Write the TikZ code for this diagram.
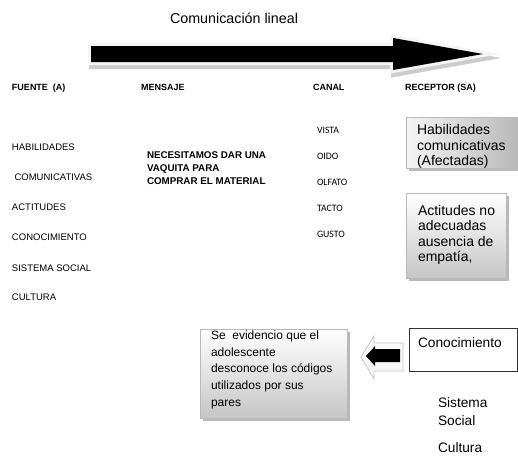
\documentclass[tikz,border=0pt]{standalone}
\usepackage{fontspec}
\setmainfont{Liberation Sans}
\newfontfamily\calibrifont{Carlito}
\begin{document}
\begin{tikzpicture}[x=1pt,y=-1pt,
  txt/.style={anchor=base west, inner sep=0pt, outer sep=0pt},
  title/.style={txt, font=\fontsize{14.3}{17}\selectfont},
  head/.style={txt, font=\fontsize{9}{11}\selectfont\bfseries},
  src/.style={txt, font=\fontsize{9.5}{11}\selectfont},
  msg/.style={txt, font=\fontsize{9.8}{12}\selectfont\bfseries},
  chan/.style={txt, font=\fontsize{9.8}{11}\selectfont\calibrifont},
  boxtxt/.style={txt, font=\fontsize{14}{16}\selectfont},
  smalltxt/.style={txt, font=\fontsize{12}{14}\selectfont},
  shadebox/.style={draw=gray!55, line width=0.6pt},
  shadowbox/.style={fill=gray!55, draw=none},
]
\useasboundingbox (0,0) rectangle (518,456);

% ---- title
\node[title] (ttl) at (170,23) {Comunicación lineal};

% ---- big arrow
\begin{scope}[shift={(1,4)}]
\path[draw=gray!40, fill=gray!40, line width=6pt, line join=miter, miter limit=30]
  (91,46) -- (393,46) -- (393,38) -- (483,54) -- (393,70) -- (393,62) -- (91,62) -- cycle;
\end{scope}
\path[draw=gray!8, line width=6pt, line join=miter, miter limit=30]
  (91,46) -- (393,46) -- (393,38) -- (483,54) -- (393,70) -- (393,62) -- (91,62) -- cycle;
\path[fill=black]
  (91,46) -- (393,46) -- (393,38) -- (483,54) -- (393,70) -- (393,62) -- (91,62) -- cycle;

% ---- headers
\node[head] (hfuente) at (12,90.2) {FUENTE \ (A)};
\node[head] (hmensaje) at (141,90.2) {MENSAJE};
\node[head] (hcanal) at (313,90.2) {CANAL};
\node[head] (hreceptor) at (405,90.2) {RECEPTOR (SA)};

% ---- source column
\node[src] (s1) at (12,150.4) {HABILIDADES};
\node[src] (s2) at (14.5,180.4) {COMUNICATIVAS};
\node[src] (s3) at (12,210.4) {ACTITUDES};
\node[src] (s4) at (12,240.4) {CONOCIMIENTO};
\node[src] (s5) at (12,271) {SISTEMA SOCIAL};
\node[src] (s6) at (12,300.4) {CULTURA};

% ---- message
\node[msg] (m1) at (147,158.5) {NECESITAMOS DAR UNA};
\node[msg] (m2) at (147,171.5) {VAQUITA PARA};
\node[msg] (m3) at (147,184.5) {COMPRAR EL MATERIAL};

% ---- channel
\node[chan] (c1) at (317,133.3) {VISTA};
\node[chan] (c2) at (317,159.3) {OIDO};
\node[chan] (c3) at (317,185.3) {OLFATO};
\node[chan] (c4) at (317,211.3) {TACTO};
\node[chan] (c5) at (317,237.3) {GUSTO};

% ---- receptor box 1
\fill[shadowbox] (408.5,119.5) rectangle (519.5,170.5);
\node[shadebox, left color=gray!8, right color=gray!55, anchor=north west,
  minimum width=111pt, minimum height=51pt, inner sep=0pt] (habbox) at (406,117) {};
\node[boxtxt] (h1) at (417,134.3) {Habilidades};
\node[boxtxt] (h2) at (417,150) {comunicativas};
\node[boxtxt] (h3) at (417,165) {(Afectadas)};

% ---- receptor box 2
\fill[shadowbox] (408.5,195.5) rectangle (508.5,280.5);
\node[shadebox, top color=white, bottom color=gray!45, anchor=north west,
  minimum width=100pt, minimum height=85pt, inner sep=0pt] (actbox) at (406,193) {};
\node[boxtxt] (a1) at (418,215) {Actitudes no};
\node[boxtxt] (a2) at (418,230.5) {adecuadas};
\node[boxtxt] (a3) at (418,246) {ausencia de};
\node[boxtxt] (a4) at (418,261.5) {empatía,};

% ---- evidence box
\fill[shadowbox] (202.5,331.5) rectangle (349.5,420.5);
\node[shadebox, top color=white, bottom color=gray!45, anchor=north west,
  minimum width=147pt, minimum height=89pt, inner sep=0pt] (sebox) at (200,329) {};
\node[smalltxt] (e1) at (211,339.5) {Se \ evidencio que el};
\node[smalltxt] (e2) at (211,356.2) {adolescente};
\node[smalltxt] (e3) at (211,372.9) {desconoce los códigos};
\node[smalltxt] (e4) at (211,389.6) {utilizados por sus};
\node[smalltxt] (e5) at (211,406.3) {pares};

% ---- conocimiento box
\node[draw=black!80, line width=0.7pt, fill=white, anchor=north west,
  minimum width=108pt, minimum height=43pt, inner sep=0pt] (conbox) at (409,328) {};
\node[boxtxt, font=\fontsize{13.7}{16}\selectfont] (k1) at (418,347) {Conocimiento};

% ---- small left arrow
\path[fill=gray!5, draw=gray!45, line width=0.8pt, line join=miter]
  (361,357) -- (374,336) -- (374,343) -- (403,343) -- (403,371) -- (374,371) -- (374,379) -- cycle;
\path[fill=black]
  (366,356) -- (375,346) -- (375,349) -- (400,349) -- (400,362) -- (375,362) -- (375,366) -- cycle;

% ---- remaining receptor items
\node[boxtxt, font=\fontsize{13.7}{16}\selectfont] (k2) at (438,407) {Sistema};
\node[boxtxt, font=\fontsize{13.7}{16}\selectfont] (k3) at (438,425) {Social};
\node[boxtxt, font=\fontsize{13.7}{16}\selectfont] (k4) at (438,452) {Cultura};
\end{tikzpicture}
\end{document}
